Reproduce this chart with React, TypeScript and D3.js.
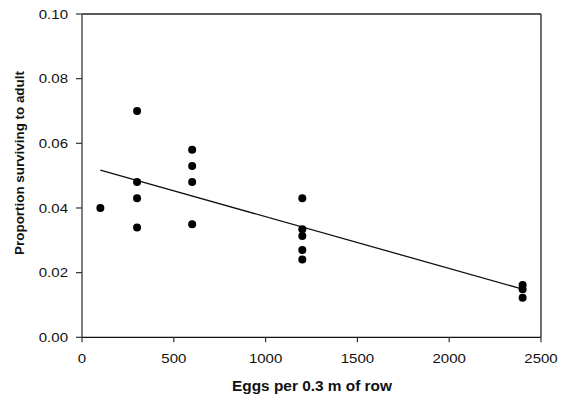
import React from "react";
import * as d3 from "d3";

const eggs = [100, 300, 300, 300, 300, 600, 600, 600, 600, 1200, 1200, 1200, 1200, 1200, 2400, 2400, 2400];
const survival = [0.040, 0.070, 0.048, 0.043, 0.034, 0.058, 0.053, 0.048, 0.035, 0.043, 0.0334, 0.0313, 0.027, 0.0241, 0.0162, 0.0149, 0.0122];
const fitX = [100, 2400];
const fitY = [0.0517, 0.0149];
const xTicks = [0, 500, 1000, 1500, 2000, 2500];
const yTicks = [0, 0.02, 0.04, 0.06, 0.08, 0.1];

const W = 568, H = 398;
const left = 82, right = 541, top = 14, bottom = 337.3;
const font = "'Liberation Sans', Arial, Helvetica, sans-serif";

export default function App() {
  const x = d3.scaleLinear().domain([0, 2500]).range([left, right]);
  const y = d3.scaleLinear().domain([0, 0.1]).range([bottom, top]);
  const line = d3.line<number>().x((_, i) => x(fitX[i])).y((d) => y(d));
  return (
    <svg width={W} height={H} style={{ position: "absolute", left: 0, top: 0, background: "#fff" }}>
      {/* frame */}
      <line x1={left} x2={right} y1={top} y2={top} stroke="#222" strokeWidth={1.3} />
      <line x1={right} x2={right} y1={top} y2={bottom} stroke="#222" strokeWidth={1.3} />
      <line x1={left} x2={left} y1={top} y2={bottom} stroke="#555" strokeWidth={1.5} />
      <line x1={left} x2={right} y1={bottom} y2={bottom} stroke="#111" strokeWidth={1.3} />
      {yTicks.map((t) => (
        <g key={"y" + t}>
          <line x1={left - 6} x2={left} y1={y(t)} y2={y(t)} stroke="#333" strokeWidth={1.2} />
          <text
            transform={`translate(${left - 14},${y(t)}) scale(1.13,1)`}
            dy="0.35em"
            textAnchor="end"
            fontFamily={font}
            fontSize={13.3}
            fill="#111"
          >
            {d3.format(".2f")(t)}
          </text>
        </g>
      ))}
      {xTicks.map((t) => (
        <g key={"x" + t}>
          <line x1={x(t)} x2={x(t)} y1={bottom} y2={bottom + 5} stroke="#333" strokeWidth={1.2} />
          <text
            transform={`translate(${x(t)},363) scale(1.13,1)`}
            textAnchor="middle"
            fontFamily={font}
            fontSize={13.3}
            fill="#111"
          >
            {t}
          </text>
        </g>
      ))}
      <path d={line(fitY) || ""} fill="none" stroke="#111" strokeWidth={1.3} />
      {eggs.map((e, i) => (
        <circle key={i} cx={x(e)} cy={y(survival[i])} r={4} fill="#000" />
      ))}
      <text x={312} y={391} textAnchor="middle" fontFamily={font} fontSize={15.4} fontWeight="bold" fill="#111">
        Eggs per 0.3 m of row
      </text>
      <text
        transform={`translate(24,163) rotate(-90)`}
        textAnchor="middle"
        fontFamily={font}
        fontSize={13.4}
        fontWeight="bold"
        fill="#111"
      >
        Proportion surviving to adult
      </text>
    </svg>
  );
}
